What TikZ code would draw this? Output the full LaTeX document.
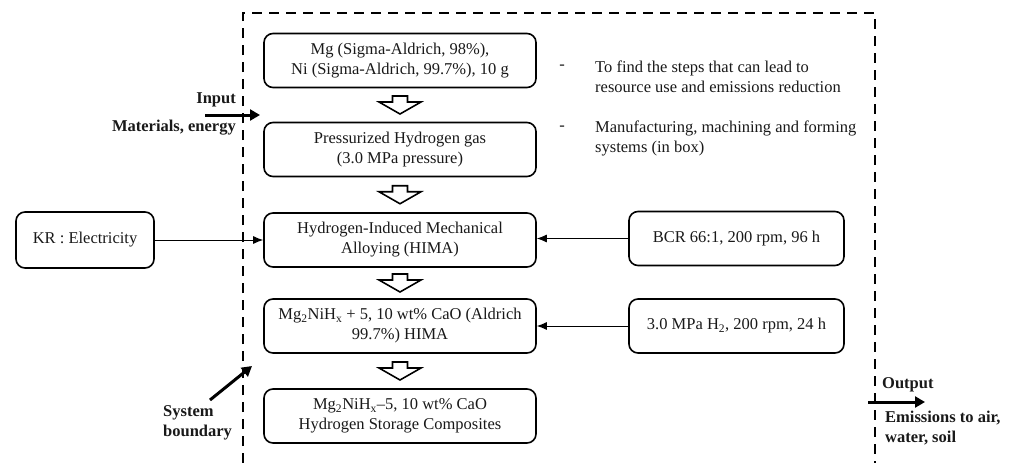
\documentclass[tikz,border=0pt]{standalone}
\usepackage{fontspec}
\setmainfont{Liberation Serif}
\usetikzlibrary{arrows.meta,calc}
\begin{document}
\begin{tikzpicture}[x=1pt,y=-1pt,
  every node/.style={font=\fontsize{16.5}{20}\selectfont, text=black!90},
  procbox/.style={draw, line width=1.6pt, rounded corners=9pt, align=center, inner sep=2pt},
  mainbox/.style={procbox, minimum width=272pt, minimum height=54pt},
  sidebox/.style={procbox, minimum width=215pt, minimum height=54pt},
  thinarrow/.style={line width=1pt, -{Latex[length=10pt,width=8pt]}},
  thickarrow/.style={line width=3pt, -{Triangle[length=10pt,width=11pt]}},
  boundary/.style={line width=2pt, dash pattern=on 10pt off 7pt},
  lbl/.style={font=\fontsize{16.5}{20}\selectfont\bfseries, align=left, inner sep=0pt},
  hollowdown/.pic={
    \draw[line width=1.6pt, line join=miter, fill=white]
      (-7.5,-9) -- (7.5,-9) -- (7.5,-3) -- (21,-3) -- (0,9) -- (-21,-3) -- (-7.5,-3) -- cycle;
  }]
\useasboundingbox (0,0) rectangle (1013,463);

% system boundary
\draw[boundary] (243,463) -- (243,13) -- (875,13) -- (875,463);

% process chain
\node[mainbox] (b1) at (400,60.5) {Mg (Sigma-Aldrich, 98\%),\\Ni (Sigma-Aldrich, 99.7\%), 10 g};
\node[mainbox] (b2) at (400,149.5) {Pressurized Hydrogen gas\\(3.0 MPa pressure)};
\node[mainbox] (b3) at (400,240) {Hydrogen-Induced Mechanical\\Alloying (HIMA)};
\node[mainbox] (b4) at (400,326) {Mg\textsubscript{2}NiH\textsubscript{x} + 5, 10 wt\% CaO (Aldrich\\99.7\%) HIMA};
\node[mainbox] (b5) at (400,416) {Mg\textsubscript{2}NiH\textsubscript{x}--5, 10 wt\% CaO\\Hydrogen Storage Composites};

\pic at ($(b1.south)!0.5!(b2.north)$) {hollowdown};
\pic at ($(b2.south)!0.5!(b3.north)$) {hollowdown};
\pic at ($(b3.south)!0.5!(b4.north)$) {hollowdown};
\pic at ($(b4.south)!0.5!(b5.north)$) {hollowdown};

% side inputs
\node[procbox, minimum width=138pt, minimum height=56pt] (kr) at (85,240) {KR : Electricity};
\node[sidebox] (bcr) at (736.5,238.5) {BCR 66:1, 200 rpm, 96 h};
\node[sidebox] (mpa) at (736.5,326) {3.0 MPa H\textsubscript{2}, 200 rpm, 24 h};

\draw[thinarrow] (kr.east) -- (kr.east -| b3.west);
\draw[thinarrow] (bcr.west) -- (bcr.west -| b3.east);
\draw[thinarrow] (mpa.west) -- (mpa.west -| b4.east);

% notes
\node (d1) at (562,67) {-};
\node[anchor=west, align=left, inner sep=0pt] (n1) at (595,77) {To find the steps that can lead to\\resource use and emissions reduction};
\node (d2) at (562,128) {-};
\node[anchor=west, align=left, inner sep=0pt] (n2) at (595,138) {Manufacturing, machining and forming\\systems (in box)};

% input
\node[lbl, anchor=east] (inp) at (236,100) {Input};
\node[lbl, anchor=east] (mat) at (236,128) {Materials, energy};
\coordinate (inL) at (205,115);
\coordinate (inR) at (260,115);
\draw[thickarrow] (inL) -- (inR);

% boundary label
\node[lbl, anchor=west] (sb) at (163,423) {System\\boundary};
\coordinate (sbT) at (210,400);
\coordinate (sbH) at (252,366);
\draw[thickarrow] (sbT) -- (sbH);

% output
\node[lbl, anchor=west] (outp) at (882,385) {Output};
\node[lbl, anchor=west] (em) at (885,428) {Emissions to air,\\water, soil};
\coordinate (outL) at (868,402);
\coordinate (outR) at (925,402);
\draw[thickarrow] (outL) -- (outR);
\end{tikzpicture}
\end{document}
